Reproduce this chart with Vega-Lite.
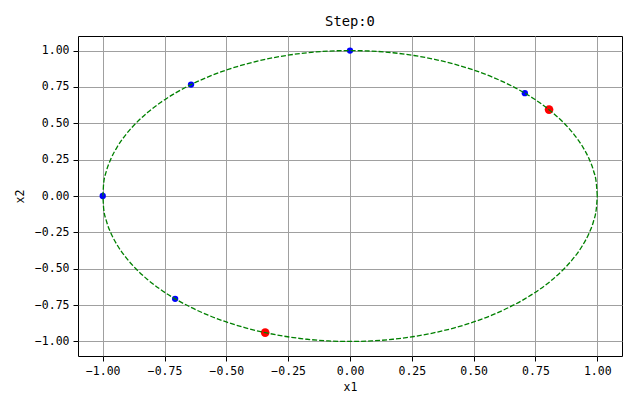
{
  "$schema": "https://vega.github.io/schema/vega-lite/v6.json",
  "autosize": {"type": "none"},
  "padding": {"left": 78, "top": 36, "right": 18, "bottom": 53},
  "width": 544,
  "height": 320,
  "background": "white",
  "config": {
    "font": "DejaVu Sans Mono",
    "view": {"stroke": "black", "strokeWidth": 1},
    "axis": {
      "domain": false,
      "grid": true,
      "gridColor": "#a0a0a0",
      "gridWidth": 1,
      "gridOpacity": 1,
      "tickColor": "black",
      "tickSize": 5,
      "tickWidth": 1,
      "labelColor": "black",
      "labelFontSize": 11.5,
      "labelFont": "DejaVu Sans Mono",
      "titleFont": "DejaVu Sans Mono",
      "titleFontSize": 11.5,
      "titleFontWeight": "normal",
      "titleColor": "black",
      "zindex": 1
    }
  },
  "title": {
    "text": "Step:0",
    "fontSize": 13.8,
    "fontWeight": "normal",
    "font": "DejaVu Sans Mono",
    "color": "black",
    "offset": 7
  },
  "datasets": {
    "circle": [
      {"t": 0, "x1": 1.0, "x2": 0.0},
      {"t": 5, "x1": 0.9962, "x2": 0.0872},
      {"t": 10, "x1": 0.9848, "x2": 0.1736},
      {"t": 15, "x1": 0.9659, "x2": 0.2588},
      {"t": 20, "x1": 0.9397, "x2": 0.342},
      {"t": 25, "x1": 0.9063, "x2": 0.4226},
      {"t": 30, "x1": 0.866, "x2": 0.5},
      {"t": 35, "x1": 0.8192, "x2": 0.5736},
      {"t": 40, "x1": 0.766, "x2": 0.6428},
      {"t": 45, "x1": 0.7071, "x2": 0.7071},
      {"t": 50, "x1": 0.6428, "x2": 0.766},
      {"t": 55, "x1": 0.5736, "x2": 0.8192},
      {"t": 60, "x1": 0.5, "x2": 0.866},
      {"t": 65, "x1": 0.4226, "x2": 0.9063},
      {"t": 70, "x1": 0.342, "x2": 0.9397},
      {"t": 75, "x1": 0.2588, "x2": 0.9659},
      {"t": 80, "x1": 0.1736, "x2": 0.9848},
      {"t": 85, "x1": 0.0872, "x2": 0.9962},
      {"t": 90, "x1": 0.0, "x2": 1.0},
      {"t": 95, "x1": -0.0872, "x2": 0.9962},
      {"t": 100, "x1": -0.1736, "x2": 0.9848},
      {"t": 105, "x1": -0.2588, "x2": 0.9659},
      {"t": 110, "x1": -0.342, "x2": 0.9397},
      {"t": 115, "x1": -0.4226, "x2": 0.9063},
      {"t": 120, "x1": -0.5, "x2": 0.866},
      {"t": 125, "x1": -0.5736, "x2": 0.8192},
      {"t": 130, "x1": -0.6428, "x2": 0.766},
      {"t": 135, "x1": -0.7071, "x2": 0.7071},
      {"t": 140, "x1": -0.766, "x2": 0.6428},
      {"t": 145, "x1": -0.8192, "x2": 0.5736},
      {"t": 150, "x1": -0.866, "x2": 0.5},
      {"t": 155, "x1": -0.9063, "x2": 0.4226},
      {"t": 160, "x1": -0.9397, "x2": 0.342},
      {"t": 165, "x1": -0.9659, "x2": 0.2588},
      {"t": 170, "x1": -0.9848, "x2": 0.1736},
      {"t": 175, "x1": -0.9962, "x2": 0.0872},
      {"t": 180, "x1": -1.0, "x2": 0.0},
      {"t": 185, "x1": -0.9962, "x2": -0.0872},
      {"t": 190, "x1": -0.9848, "x2": -0.1736},
      {"t": 195, "x1": -0.9659, "x2": -0.2588},
      {"t": 200, "x1": -0.9397, "x2": -0.342},
      {"t": 205, "x1": -0.9063, "x2": -0.4226},
      {"t": 210, "x1": -0.866, "x2": -0.5},
      {"t": 215, "x1": -0.8192, "x2": -0.5736},
      {"t": 220, "x1": -0.766, "x2": -0.6428},
      {"t": 225, "x1": -0.7071, "x2": -0.7071},
      {"t": 230, "x1": -0.6428, "x2": -0.766},
      {"t": 235, "x1": -0.5736, "x2": -0.8192},
      {"t": 240, "x1": -0.5, "x2": -0.866},
      {"t": 245, "x1": -0.4226, "x2": -0.9063},
      {"t": 250, "x1": -0.342, "x2": -0.9397},
      {"t": 255, "x1": -0.2588, "x2": -0.9659},
      {"t": 260, "x1": -0.1736, "x2": -0.9848},
      {"t": 265, "x1": -0.0872, "x2": -0.9962},
      {"t": 270, "x1": 0.0, "x2": -1.0},
      {"t": 275, "x1": 0.0872, "x2": -0.9962},
      {"t": 280, "x1": 0.1736, "x2": -0.9848},
      {"t": 285, "x1": 0.2588, "x2": -0.9659},
      {"t": 290, "x1": 0.342, "x2": -0.9397},
      {"t": 295, "x1": 0.4226, "x2": -0.9063},
      {"t": 300, "x1": 0.5, "x2": -0.866},
      {"t": 305, "x1": 0.5736, "x2": -0.8192},
      {"t": 310, "x1": 0.6428, "x2": -0.766},
      {"t": 315, "x1": 0.7071, "x2": -0.7071},
      {"t": 320, "x1": 0.766, "x2": -0.6428},
      {"t": 325, "x1": 0.8192, "x2": -0.5736},
      {"t": 330, "x1": 0.866, "x2": -0.5},
      {"t": 335, "x1": 0.9063, "x2": -0.4226},
      {"t": 340, "x1": 0.9397, "x2": -0.342},
      {"t": 345, "x1": 0.9659, "x2": -0.2588},
      {"t": 350, "x1": 0.9848, "x2": -0.1736},
      {"t": 355, "x1": 0.9962, "x2": -0.0872},
      {"t": 360, "x1": 1.0, "x2": 0.0}
    ],
    "points": [
      {"x1": 0.0, "x2": 1.0, "kind": "blue"},
      {"x1": 0.7071, "x2": 0.7071, "kind": "blue"},
      {"x1": -0.6428, "x2": 0.766, "kind": "blue"},
      {"x1": -1.0, "x2": 0.0, "kind": "blue"},
      {"x1": -0.7071, "x2": -0.7071, "kind": "blue"},
      {"x1": 0.805, "x2": 0.594, "kind": "red"},
      {"x1": -0.343, "x2": -0.939, "kind": "red"}
    ]
  },
  "encoding": {
    "x": {
      "field": "x1", "type": "quantitative", "title": "x1",
      "scale": {"domain": [-1.1, 1.1], "nice": false, "zero": false},
      "axis": {"values": [-1, -0.75, -0.5, -0.25, 0, 0.25, 0.5, 0.75, 1], "format": ".2f", "labelPadding": 4, "titlePadding": 5}
    },
    "y": {
      "field": "x2", "type": "quantitative", "title": "x2",
      "scale": {"domain": [-1.1, 1.1], "nice": false, "zero": false},
      "axis": {"values": [-1, -0.75, -0.5, -0.25, 0, 0.25, 0.5, 0.75, 1], "format": ".2f", "labelPadding": 4, "titlePadding": 9}
    }
  },
  "layer": [
    {
      "data": {"name": "points"},
      "mark": {"type": "circle", "opacity": 1},
      "encoding": {
        "color": {"field": "kind", "type": "nominal", "scale": {"domain": ["blue", "red"], "range": ["#0000ff", "#ff0000"]}, "legend": null},
        "size": {"field": "kind", "type": "nominal", "scale": {"domain": ["blue", "red"], "range": [40, 75]}, "legend": null}
      }
    },
    {
      "data": {"name": "circle"},
      "mark": {"type": "line", "color": "#008000", "strokeWidth": 1.3, "strokeDash": [5, 2], "interpolate": "monotone"},
      "encoding": {
        "order": {"field": "t", "type": "quantitative"}
      }
    }
  ]
}
